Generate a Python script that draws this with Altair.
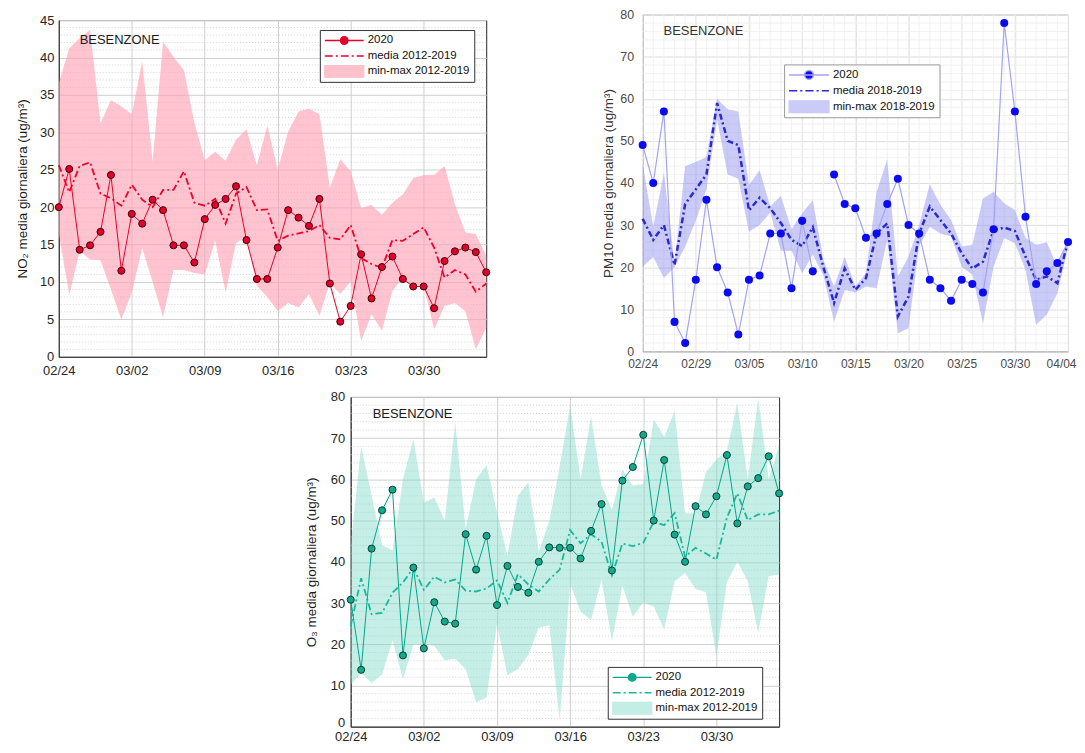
import altair as alt
import pandas as pd

FONT = "Liberation Sans"

# ------------------------------------------------------------------ data
no2_dates = pd.date_range("2020-02-24", "2020-04-05", freq="D")
no2_2020 = [20.0, 25.1, 14.3, 14.9, 16.7, 24.3, 11.5, 19.1, 17.8, 21.0,
            19.6, 14.9, 14.9, 12.6, 18.4, 20.3, 21.1, 22.8, 15.6, 10.4,
            10.4, 14.6, 19.6, 18.6, 17.5, 21.1, 9.8, 4.7, 6.8, 13.7,
            7.8, 12.0, 13.4, 10.4, 9.4, 9.4, 6.5, 12.8, 14.1, 14.6,
            14.0, 11.3]
no2_mean = [25.6, 22.0, 25.5, 26.0, 21.8, 21.2, 20.2, 23.0, 21.0, 20.0,
            22.3, 22.3, 24.8, 20.6, 20.2, 21.1, 17.8, 21.8, 22.7, 19.6,
            19.7, 15.5, 16.2, 16.5, 16.8, 17.6, 15.9, 15.7, 17.6, 13.2,
            12.4, 11.9, 15.6, 15.5, 16.4, 17.3, 14.6, 10.6, 11.6, 11.0,
            8.7, 9.8]
no2_min = [16.5, 8.3, 14.1, 13.0, 12.9, 9.0, 5.0, 8.6, 14.5, 10.0,
           5.3, 11.6, 11.6, 11.2, 11.0, 15.5, 8.6, 15.2, 16.0, 9.5,
           8.0, 6.1, 7.2, 6.6, 8.4, 5.5, 9.9, 8.4, 10.1, 2.1,
           5.7, 3.5, 8.8, 10.6, 9.2, 9.5, 3.7, 6.8, 7.2, 6.1,
           1.0, 3.9]
no2_max = [36.6, 41.2, 42.6, 43.7, 31.2, 34.3, 33.5, 32.4, 39.5, 26.1,
           42.1, 40.1, 38.3, 31.3, 26.3, 27.4, 26.2, 29.0, 30.4, 25.6,
           30.9, 25.0, 30.1, 32.8, 33.2, 32.4, 22.6, 26.4, 24.8, 19.9,
           20.3, 19.0, 20.6, 21.7, 23.9, 24.3, 24.3, 25.5, 20.4, 16.6,
           16.4, 13.5]

pm10_dates = pd.date_range("2020-02-24", "2020-04-04", freq="D")
pm10_2020 = [49, 40, 57, 7, 2, 17, 36, 20, 14, 4,
             17, 18, 28, 28, 15, 31, 19, None, 42, 35,
             34, 27, 28, 35, 41, 30, 28, 17, 15, 12,
             17, 16, 14, 29, 78, 57, 32, 16, 19, 21,
             26]
pm10_seg = [0] * 17 + [1] * 24
pm10_mean = [31.5, 26.5, 30.0, 20.5, 35.0, 38.5, 42.0, 59.0, 50.0, 49.0,
             33.5, 36.5, 34.0, 30.5, 26.5, 25.0, 29.5, 20.0, 11.5, 19.7,
             14.6, 17.4, 28.0, 30.4, 8.3, 13.0, 28.0, 34.4, 31.2, 28.0,
             23.3, 19.7, 21.3, 28.8, 29.4, 28.6, 22.5, 17.0, 17.8, 16.2,
             26.3]
pm10_min = [20.1, 22.4, 17.4, 20.0, 24.9, 31.0, 38.5, 55.0, 42.0, 41.0,
            28.4, 30.0, 33.0, 23.9, 23.9, 18.6, 23.0, 18.0, 7.0, 14.6,
            14.0, 15.4, 15.0, 26.5, 4.3, 5.5, 25.0, 29.6, 28.0, 27.3,
            20.1, 18.2, 6.7, 20.1, 26.9, 25.7, 19.4, 6.3, 8.7, 13.8,
            24.5]
pm10_max = [44.6, 29.6, 42.4, 21.0, 44.0, 45.0, 46.2, 60.0, 57.5, 57.0,
            39.5, 43.0, 34.5, 36.9, 29.0, 32.8, 35.9, 21.7, 15.4, 22.5,
            15.4, 18.6, 37.9, 45.6, 17.8, 22.5, 30.0, 39.7, 34.8, 31.2,
            24.9, 25.3, 36.3, 37.9, 35.2, 33.6, 26.9, 25.3, 25.9, 20.1,
            26.8]

o3_dates = pd.date_range("2020-02-24", "2020-04-05", freq="D")
o3_2020 = [30.8, 13.8, 43.2, 52.5, 57.5, 17.3, 38.6, 19.0, 30.2, 25.5,
           25.0, 46.7, 38.1, 46.3, 29.5, 39.0, 33.9, 32.5, 40.0, 43.5,
           43.4, 43.4, 40.8, 47.5, 54.0, 37.9, 59.7, 63.0, 70.8, 50.0,
           64.7, 46.6, 40.0, 53.5, 51.5, 55.9, 65.9, 49.3, 58.3, 60.3,
           65.6, 56.6]
o3_mean = [24.5, 36.0, 27.3, 27.6, 32.5, 35.0, 38.5, 33.2, 36.4, 35.0,
           35.7, 33.0, 32.8, 33.5, 35.5, 30.0, 37.0, 34.5, 32.8, 35.7,
           38.1, 47.7, 44.5, 46.7, 44.9, 36.7, 44.4, 43.8, 44.6, 49.7,
           48.9, 51.8, 41.2, 43.4, 42.0, 40.5, 50.7, 56.6, 50.1, 51.5,
           51.5, 52.4]
o3_min = [10.2, 13.0, 10.6, 12.6, 21.0, 11.5, 20.0, 20.0, 19.6, 16.1,
          16.5, 14.0, 5.9, 7.1, 24.9, 12.5, 14.0, 17.4, 24.0, 24.7,
          1.6, 34.6, 27.9, 25.9, 35.7, 20.8, 34.2, 26.7, 30.2, 29.1,
          23.6, 35.3, 37.3, 33.4, 32.6, 17.0, 35.0, 40.1, 35.3, 22.8,
          36.5, 36.9]
o3_max = [44.0, 68.1, 56.0, 44.0, 42.8, 60.0, 69.8, 54.4, 55.6, 50.0,
          74.0, 48.0, 60.0, 63.5, 52.0, 41.5, 56.0, 59.3, 42.5, 49.9,
          63.2, 78.0, 60.0, 75.4, 58.5, 52.6, 62.4, 58.5, 58.9, 74.6,
          70.3, 76.6, 51.8, 51.8, 61.7, 64.8, 66.8, 78.6, 60.1, 79.7,
          60.1, 68.3]

week_ticks = ["2020-02-24", "2020-03-02", "2020-03-09", "2020-03-16",
              "2020-03-23", "2020-03-30"]
pm10_ticks = ["2020-02-24", "2020-02-29", "2020-03-05", "2020-03-10",
              "2020-03-15", "2020-03-20", "2020-03-25", "2020-03-30",
              "2020-04-04"]

no2_names = ["2020", "media 2012-2019", "min-max 2012-2019"]
pm10_names = ["2020", "media 2018-2019", "min-max 2018-2019"]
o3_names = ["2020", "media 2012-2019", "min-max 2012-2019"]


# ------------------------------------------------------------------ helpers
def dt(s):
    y, m, d = map(int, s.split("-"))
    return alt.DateTime(year=y, month=m, date=d)


def sym_2020(r):
    return (f"M-1,0L1,0M{r},0A{r},{r},0,1,1,{-r},0"
            f"A{r},{r},0,1,1,{r},0Z")


SYM_DASH = "M-1,0L-0.59,0M-0.44,0L-0.33,0M-0.18,0L0.23,0M0.38,0L0.49,0M0.64,0L1,0"
SYM_RECT = "M-1,-0.33L1,-0.33L1,0.33L-1,0.33Z"


def build_panel(c):
    df = pd.DataFrame({"date": c["dates"], "v2020": c["v2020"], "mean": c["mean"],
                       "lo": c["lo"], "hi": c["hi"], "seg": c["seg"]})
    xscale = alt.Scale(domain=[dt(c["start"]), dt(c["end"])], nice=False)
    yscale = alt.Scale(domain=[0, c["ymax"]], nice=False)
    xaxis_kw = dict(values=[dt(t) for t in c["xticks"]], format="%m/%d", title=None,
                    labelFont=FONT, labelFontSize=c["xlfs"], labelColor=c["lcol"],
                    labelFlush=False, labelPadding=c["xlp"], ticks=False,
                    domain=True, domainColor=c["box"], domainWidth=1,
                    grid=True, gridColor=c["grid"], gridWidth=c["gridw"],
                    labelOverlap=False)
    if c.get("xlo") is not None:
        xaxis_kw["labelOffset"] = c["xlo"]
    xaxis = alt.Axis(**xaxis_kw)
    yaxis_kw = dict(values=c["yticks"], title=c["ytitle"], titleFont=FONT,
                    titleFontSize=13.5, titleFontWeight="normal", titleColor=c["tcol"],
                    titlePadding=c["ytp"], labelFont=FONT, labelFontSize=c["lfs"],
                    labelColor=c["lcol"], labelPadding=c["ylp"], ticks=False,
                    domain=True, domainColor=c["box"], domainWidth=1,
                    grid=True, gridColor=c["grid"], gridWidth=c["gridw"])
    if c.get("ylo") is not None:
        yaxis_kw["labelOffset"] = c["ylo"]
    yaxis = alt.Axis(**yaxis_kw)

    def X(field="date"):
        return alt.X(f"{field}:T", scale=xscale, axis=xaxis, title=None)

    def Y(field):
        return alt.Y(f"{field}:Q", scale=yscale, axis=yaxis, title=c["ytitle"])

    layers = []
    ymin_df = pd.DataFrame({"gy": c["yminor"]})
    layers.append(alt.Chart(ymin_df).mark_rule(color=c["mcol"], strokeWidth=c["mw"],
                                               strokeDash=c["mdash"])
                  .encode(y=Y("gy")))
    if c.get("xminor") is not None:
        xmin_df = pd.DataFrame({"date": c["xminor"]})
        layers.append(alt.Chart(xmin_df).mark_rule(color=c["mcol"], strokeWidth=c["mw"],
                                                   strokeDash=c["mdash"])
                      .encode(x=X()))

    base = alt.Chart(df)
    layers.append(base.mark_area(color=c["band"], opacity=c["bandop"])
                  .encode(x=X(), y=Y("lo"), y2="hi:Q"))
    layers.append(base.mark_line(color=c["meancol"], strokeWidth=c["meanw"],
                                 strokeDash=c["meandash"])
                  .encode(x=X(), y=Y("mean")))
    layers.append(base.mark_line(color=c["linecol"], strokeWidth=c["linew"])
                  .encode(x=X(), y=Y("v2020"), detail="seg:N"))
    mk = dict(fill=c["ptfill"], size=c["ptsize"], opacity=1)
    if c["ptstroke"]:
        mk.update(stroke=c["ptstroke"], strokeWidth=1)
    layers.append(base.mark_circle(**mk).encode(x=X(), y=Y("v2020")))

    names = c["names"]
    leg = alt.Legend(title=None, orient="none", legendX=c["legx"], legendY=c["legy"],
                     strokeColor=c["legstroke"], fillColor="white", padding=4,
                     labelFont=FONT, labelFontSize=c["legfs"], labelColor="#111111",
                     symbolSize=c["symsize"], clipHeight=c["cliph"],
                     rowPadding=c["rowpad"], labelOffset=3, symbolOffset=0,
                     symbolOpacity=1, symbolStrokeWidth=1.5, cornerRadius=0,
                     labelLimit=400)
    leg_df = pd.DataFrame({"series": names, "date": [c["dates"][0]] * 3,
                           "val": [c["mean"][0]] * 3})
    layers.append(alt.Chart(leg_df).mark_point(opacity=0).encode(
        x=X(), y=Y("val"),
        shape=alt.Shape("series:N", scale=alt.Scale(domain=names, range=[sym_2020(c["symr"]), SYM_DASH, SYM_RECT]), legend=leg),
        fill=alt.Fill("series:N", scale=alt.Scale(domain=names, range=c["legfill"]), legend=leg),
        stroke=alt.Stroke("series:N", scale=alt.Scale(domain=names, range=c["legstrokes"]), legend=leg),
    ))

    txt_df = pd.DataFrame({"t": ["BESENZONE"]})
    layers.append(alt.Chart(txt_df).mark_text(align="left", baseline="middle", font=FONT,
                                              fontSize=13, color=c["tcol"])
                  .encode(x=alt.value(c["txtx"]), y=alt.value(c["txty"]), text="t:N"))
    if c.get("extend_bottom") is not None:
        # invisible glyph below the plot: makes this cell taller so that the
        # centred row places the neighbouring panel a few pixels lower
        layers.append(alt.Chart(txt_df).mark_text(align="left", baseline="top",
                                                  fontSize=2, opacity=0)
                      .encode(x=alt.value(0), y=alt.value(c["extend_bottom"]), text="t:N"))

    return alt.layer(*layers).properties(
        width=c["w"], height=c["h"],
        view=alt.ViewBackground(stroke=c["box"], strokeWidth=1))


# ------------------------------------------------------------------ panels
p1 = build_panel(dict(
    dates=no2_dates, v2020=no2_2020, mean=no2_mean, lo=no2_min, hi=no2_max, seg=[0] * 42,
    start="2020-02-24", end="2020-04-05", ymax=45, xticks=week_ticks,
    yticks=list(range(0, 46, 5)), yminor=[v for v in range(0, 46) if v % 5],
    xminor=None, ytitle="NO₂ media giornaliera (ug/m³)",
    lfs=13, xlfs=13, lcol="#262626", tcol="#1a1a1a", xlp=8, ylp=5, ytp=10,
    box="#262626", grid="#cfcfcf", gridw=1, mcol="#c8c8c8", mw=0.8, mdash=[1, 2],
    band="#ff9fb2", bandop=0.62, meancol="#f0002a", meanw=1.8, meandash=[7, 3, 2, 3],
    linecol="#e60026", linew=1, ptfill="#e3002b", ptstroke="#3c0008", ptsize=50,
    names=no2_names, legx=262, legy=10, legstroke="#333333", legfs=11.5,
    symsize=1521, cliph=13, rowpad=2.5, symr=0.19,
    legfill=["#e3002b", "transparent", "#ffc2cd"],
    legstrokes=["#e60026", "#f0002a", "#ffc2cd"],
    txtx=21, txty=20, w=429, h=338))

p2 = build_panel(dict(
    dates=pm10_dates, v2020=pm10_2020, mean=pm10_mean, lo=pm10_min, hi=pm10_max, seg=pm10_seg,
    start="2020-02-24", end="2020-04-04", ymax=80, xticks=pm10_ticks,
    yticks=list(range(0, 81, 10)), yminor=[v for v in range(0, 81, 2) if v % 10],
    xminor=list(pm10_dates), ytitle="PM10 media giornaliera (ug/m³)",
    lfs=12.5, xlfs=12, lcol="#4a4a4a", tcol="#333333", xlp=7, ylp=9, ytp=4,
    xlo={"condition": {"test": "month(datum.value) == 3", "value": -7}, "value": 0},
    box="#b3b3b3", grid="#dedede", gridw=1, mcol="#efefef", mw=1, mdash=[1, 0],
    band="#8c8cf0", bandop=0.45, meancol="#2a2ad0", meanw=2.5, meandash=[6, 3, 2, 3],
    linecol="#a3a3f5", linew=1.2, ptfill="#0b0bf0", ptstroke=None, ptsize=65,
    names=pm10_names, legx=142, legy=50, legstroke="#999999", legfs=11.5,
    symsize=1600, cliph=13, rowpad=3, symr=0.22,
    legfill=["#0b0bf0", "transparent", "#cbcbf8"],
    legstrokes=["#a3a3f5", "#2a2ad0", "#cbcbf8"],
    txtx=21, txty=16, w=427, h=338, extend_bottom=368))

p3 = build_panel(dict(
    dates=o3_dates, v2020=o3_2020, mean=o3_mean, lo=o3_min, hi=o3_max, seg=[0] * 42,
    start="2020-02-24", end="2020-04-05", ymax=80, xticks=week_ticks,
    yticks=list(range(0, 81, 10)), yminor=[v for v in range(0, 81, 2) if v % 10],
    xminor=None, ytitle="O₃ media giornaliera (ug/m³)",
    lfs=13, xlfs=13, lcol="#262626", tcol="#1a1a1a", xlp=4, ylp=6, ytp=12,
    ylo={"condition": {"test": "datum.value == 0", "value": -4}, "value": 0},
    box="#262626", grid="#cfcfcf", gridw=1, mcol="#c8c8c8", mw=0.8, mdash=[1, 2],
    band="#7fdcc8", bandop=0.45, meancol="#1ab89b", meanw=1.8, meandash=[7, 3, 2, 3],
    linecol="#00a78c", linew=1, ptfill="#14a98c", ptstroke="#0b3b33", ptsize=50,
    names=o3_names, legx=258, legy=271, legstroke="#333333", legfs=11.5,
    symsize=1521, cliph=13, rowpad=2.5, symr=0.19,
    legfill=["#14a98c", "transparent", "#c3eee5"],
    legstrokes=["#00a78c", "#1ab89b", "#c3eee5"],
    txtx=22, txty=17, w=430, h=331))

spacer = alt.Chart(pd.DataFrame({"a": [0]})).mark_point(opacity=0).encode(
    x=alt.X("a:Q", axis=None), y=alt.Y("a:Q", axis=None)
).properties(width=246, height=10, view=alt.ViewBackground(stroke=None))

indep = dict(shape="independent", fill="independent", stroke="independent")
row1 = alt.hconcat(p1, p2, spacing=108, center=True).resolve_scale(**indep)
row2 = alt.hconcat(spacer, p3, spacing=0).resolve_scale(**indep)

chart = alt.vconcat(row1, row2, spacing=6).resolve_scale(**indep).properties(
    padding={"left": 7, "top": -2, "right": 0, "bottom": 0}
).configure(font=FONT).configure_view(stroke=None)

chart.save("out.html", embed_options={"renderer": "svg", "actions": False})
